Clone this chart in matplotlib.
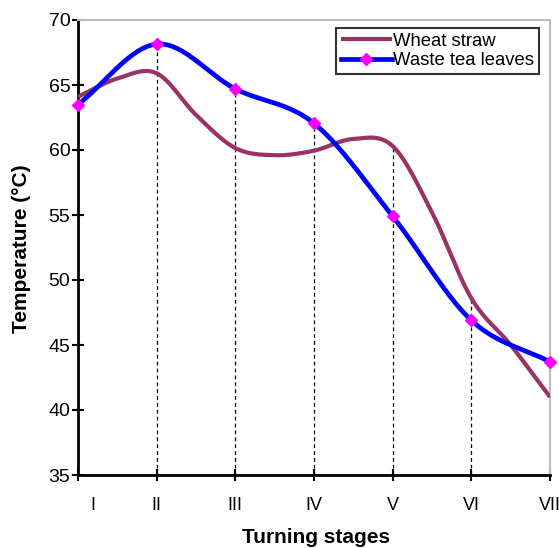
import numpy as np
import matplotlib
matplotlib.use("Agg")
import matplotlib.pyplot as plt

plt.rcParams['font.family'] = ['Liberation Sans', 'DejaVu Sans']

stage_labels = ["I", "II", "III", "IV", "V", "VI", "VII"]
stage_pos = [0, 1, 2, 3, 4, 5, 6]

# Waste tea leaves: one reading per turning stage
tea_x = [0, 1, 2, 3, 4, 5, 6]
tea_y = [63.5, 68.15, 64.7, 62.05, 54.9, 46.9, 43.7]

# Wheat straw: readings every half stage
wheat_x = [0, 0.5, 1, 1.5, 2, 2.5, 3, 3.5, 4, 4.5, 5, 5.5, 6]
wheat_y = [64.1, 65.5, 65.9, 62.7, 60.15, 59.6, 59.95, 60.85, 60.3, 55.2, 48.6, 45.0, 41.0]


def smooth(x, y, n=40):
    x = np.asarray(x, float)
    y = np.asarray(y, float)
    m = np.zeros_like(y)
    m[1:-1] = (y[2:] - y[:-2]) / (x[2:] - x[:-2])
    m[0] = (y[1] - y[0]) / (x[1] - x[0])
    m[-1] = (y[-1] - y[-2]) / (x[-1] - x[-2])
    xs, ys = [], []
    for i in range(len(x) - 1):
        h = x[i + 1] - x[i]
        t = np.linspace(0, 1, n, endpoint=(i == len(x) - 2))
        h00 = 2 * t**3 - 3 * t**2 + 1
        h10 = t**3 - 2 * t**2 + t
        h01 = -2 * t**3 + 3 * t**2
        h11 = t**3 - t**2
        xs.append(x[i] + t * h)
        ys.append(h00 * y[i] + h10 * h * m[i] + h01 * y[i + 1] + h11 * h * m[i + 1])
    return np.concatenate(xs), np.concatenate(ys)


fig = plt.figure(figsize=(5.59, 5.48), dpi=100)
ax = fig.add_axes([78 / 559, 1 - 475 / 548, (550 - 78) / 559, (475 - 20) / 548])

# drop lines from the higher series at each stage
wheat_at_stage = [wheat_y[wheat_x.index(s)] for s in stage_pos]
for s in stage_pos[1:]:
    top = max(tea_y[s], wheat_at_stage[s])
    ax.plot([s, s], [35, top], color='black', lw=0.9, ls=(0, (3, 2.5)), zorder=1)

wx, wy = smooth(wheat_x, wheat_y)
ax.plot(wx, wy, color='#993366', lw=3.0, solid_capstyle='butt', zorder=3, label='Wheat straw')
tx, ty = smooth(tea_x, tea_y)
ax.plot(tx, ty, color='#0000FF', lw=3.4, solid_capstyle='butt', zorder=4)
ax.plot(tea_x, tea_y, ls='none', marker='D', ms=6, color='#FF00FF', mec='#FF00FF', zorder=5, clip_on=False)
# legend proxy for tea
ax.plot([], [], color='#0000FF', lw=3.4, marker='D', ms=6, mfc='#FF00FF', mec='#FF00FF', label='Waste tea leaves')

ax.set_xlim(0, 6)
ax.set_ylim(35, 70)
ax.set_yticks(np.arange(35, 71, 5))
ax.set_xticks(stage_pos)
ax.set_xticklabels([])
ax.tick_params(axis='y', direction='inout', length=9, width=1.5, labelsize=14, pad=1, colors='black')
ax.tick_params(axis='x', direction='inout', length=9, width=1.5)

label_pos = [0.19, 1, 2, 3, 4, 5, 6]
for p, lab in zip(label_pos, stage_labels):
    ax.text(p, -0.066, lab, transform=ax.get_xaxis_transform(), ha='center', va='center',
            fontsize=13, clip_on=False)

for side in ['top', 'right']:
    ax.spines[side].set_color('#BBBBBB')
    ax.spines[side].set_linewidth(1.5)
for side in ['left', 'bottom']:
    ax.spines[side].set_color('black')
    ax.spines[side].set_linewidth(2)

fig.text(316 / 559, 1 - 543 / 548, 'Turning stages', ha='center', va='baseline',
         fontsize=15, fontweight='bold')
fig.text(22 / 559, 1 - 249 / 548, 'Temperature (\u00b0C)', ha='center', va='center',
         rotation=90, fontsize=15, fontweight='bold')

leg = ax.legend(loc='upper right', bbox_to_anchor=(539 / 559, 1 - 28 / 548),
                bbox_transform=fig.transFigure, prop={'size': 13.3}, frameon=True, fancybox=False,
                borderpad=0.25, labelspacing=0.15, handlelength=2.75, handletextpad=0.1,
                borderaxespad=0)
leg.get_frame().set_edgecolor('black')
leg.get_frame().set_linewidth(1.5)

fig.savefig('out.png', dpi=100)
